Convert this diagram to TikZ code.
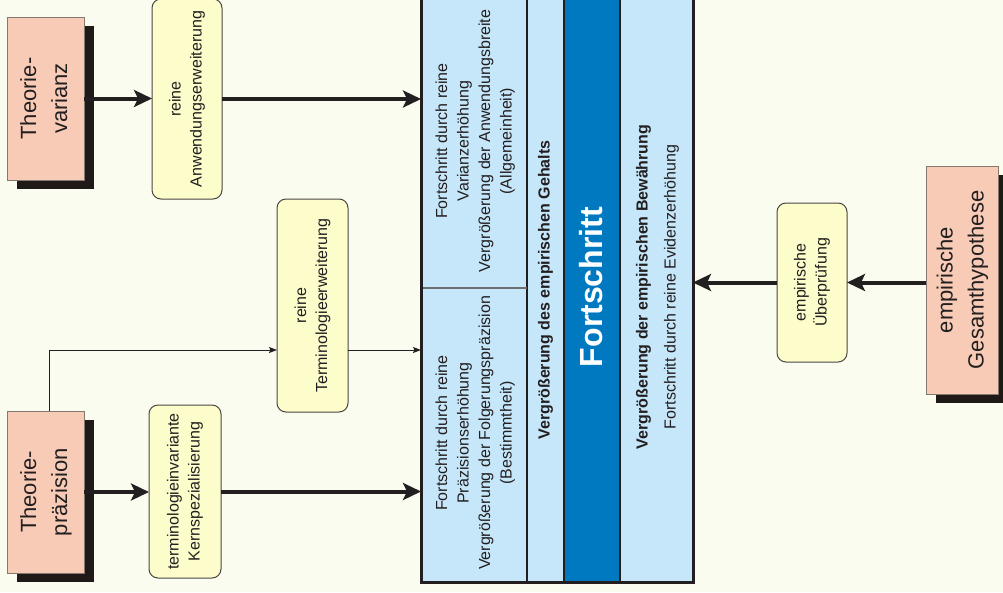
\documentclass[tikz,border=0pt]{standalone}
\usepackage{fontspec}
\setmainfont{Liberation Sans}
\usepackage{graphicx}
\usetikzlibrary{arrows.meta,shadows}
\definecolor{bgc}{HTML}{F9FCEE}
\definecolor{salmonc}{HTML}{F7CBB6}
\definecolor{salbord}{HTML}{857870}
\definecolor{shadowc}{HTML}{1F1A17}
\definecolor{yellowc}{HTML}{FDFCCB}
\definecolor{ybord}{HTML}{4A4644}
\definecolor{lightblue}{HTML}{C6E6F9}
\definecolor{darkblue}{HTML}{0079C1}
\definecolor{darkc}{HTML}{231F20}
\definecolor{sepgray}{HTML}{6D6E71}
\newcommand{\myvtext}[3]{\rotatebox{90}{\fontsize{#1}{#2}\selectfont\begin{tabular}{@{}c@{}}#3\end{tabular}}}
\begin{document}
\begin{tikzpicture}[x=1pt,y=-1pt,
  every node/.style={inner sep=0pt, outer sep=0pt, text=darkc},
  salmonbox/.style={draw=salbord, fill=salmonc, line width=1pt,
    drop shadow={shadow xshift=10pt, shadow yshift=-9pt, opacity=1, fill=shadowc}},
  yellowbox/.style={draw=ybord, fill=yellowc, rounded corners=9pt, line width=1pt},
  heavy/.style={line width=4pt, draw=darkc, -{Stealth[length=18pt,width=17pt,inset=4pt]}},
  light/.style={line width=0.9pt, draw=darkc, -{Stealth[length=8pt,width=6pt,inset=1.5pt]}}
]
\fill[bgc] (0,0) rectangle (1003,592);
\useasboundingbox (0,0) rectangle (1003,592);

% main box
\begin{scope}
\clip (0,0) rectangle (1003,592);
\node[fill=lightblue, minimum width=272pt, minimum height=600pt] (main) at (557,282) {};
\fill[darkblue] (564,-20) rectangle (620,582);
\draw[darkc, line width=2pt] (564,-20) -- (564,582) (620,-20) -- (620,582);
\draw[darkc, line width=1.5pt] (527,-20) -- (527,582);
\draw[sepgray, line width=1.5pt] (421,288) -- (527,288);
\draw[darkc, line width=3pt] (main.north west) rectangle (main.south east);
\end{scope}

\node (t1) at (475,141) {\myvtext{16}{21.5}{Fortschritt durch reine\\Varianzerhöhung\\Vergrößerung der Anwendungsbreite\\(Allgemeinheit)}};
\node (t2) at (475,433) {\myvtext{16}{21.5}{Fortschritt durch reine\\Präzisionserhöhung\\Vergrößerung der Folgerungspräzision\\(Bestimmtheit)}};
\node (t3) at (545.5,290) {\myvtext{16}{21}{\bfseries Vergrößerung des empirischen Gehalts}};
\node (t4) at (591,287) {\rotatebox{90}{\fontsize{32}{36}\selectfont\bfseries\color{white}Fortschritt}};
\node (t5) at (656,287) {\myvtext{16}{28}{\bfseries Vergrößerung der empirischen Bewährung\\Fortschritt durch reine Evidenzerhöhung}};

% left boxes
\node[salmonbox, minimum width=77pt, minimum height=163pt] (tv) at (45.5,98.5) {\myvtext{22}{31}{Theorie-\\varianz}};
\node[salmonbox, minimum width=77pt, minimum height=162pt] (tp) at (45.5,492) {\myvtext{22}{31}{Theorie-\\präzision}};
\node[yellowbox, minimum width=70pt, minimum height=200pt] (aw) at (187,99) {\myvtext{16}{21}{reine\\Anwendungserweiterung}};
\node[yellowbox, minimum width=72pt, minimum height=173pt] (tk) at (185,491.5) {\myvtext{16}{21}{terminologieinvariante\\Kernspezialisierung}};
\node[yellowbox, minimum width=71pt, minimum height=213pt] (te) at (312.5,305.5) {\myvtext{16}{21}{reine\\Terminologieerweiterung}};

% right boxes
\node[yellowbox, minimum width=70pt, minimum height=159pt] (eu) at (812,282.5) {\myvtext{16}{21}{empirische\\Überprüfung}};
\node[salmonbox, minimum width=72pt, minimum height=228pt] (eg) at (962,280) {\myvtext{22}{31}{empirische\\Gesamthypothese}};

% connectors
\draw[heavy] (tv.east) -- (tv.east -| aw.west);
\draw[heavy] (aw.east) -- (aw.east -| main.west);
\draw[heavy] (tp.east) -- (tp.east -| tk.west);
\draw[heavy] (tk.east) -- (tk.east -| main.west);
\coordinate (tin) at ([yshift=-44.5pt]te.west);
\coordinate (tout) at ([yshift=-44.5pt]te.east);
\draw[light] ([xshift=3.5pt]tp.north) |- (tin);
\draw[light] (tout) -- (tout -| main.west);
\draw[heavy] (eu.east -| eg.west) -- (eu.east);
\draw[heavy] (eu.west) -- (eu.west -| main.east);
\end{tikzpicture}
\end{document}
